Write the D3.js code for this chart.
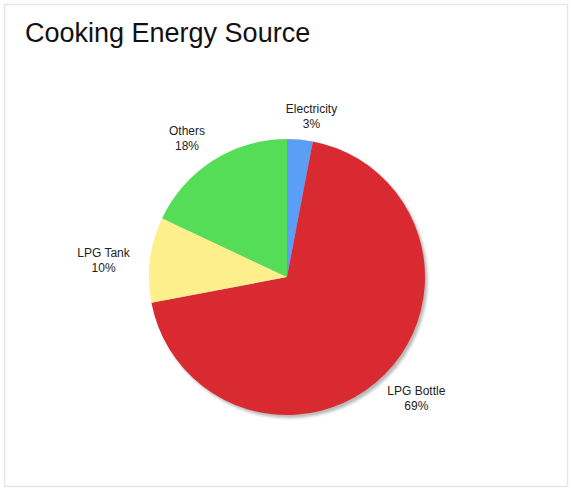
<!DOCTYPE html>
<html>
<head>
<meta charset="utf-8">
<script src="https://cdn.jsdelivr.net/npm/d3@7/dist/d3.min.js"></script>
<style>
  html, body { margin: 0; padding: 0; background: #fff; }
  svg { display: block; }
</style>
</head>
<body>
<script>
// Cooking energy source shares (percent), clockwise from 12 o'clock
const categories = ["Electricity", "LPG Bottle", "LPG Tank", "Others"];
const shares = [3, 69, 10, 18];
const sliceColors = ["#5b9ef6", "#d92a31", "#fdf08c", "#56dd57"];
const chartTitle = "Cooking Energy Source";

const W = 572, H = 488;
const cx = 287, cy = 277, radius = 138;

// small per-label nudges so callouts clear neighbouring slices
const labelNudge = [[9, 4], [3, -5], [-8, 6], [-9, 5]];

const svg = d3.select("body").append("svg")
  .attr("width", W).attr("height", H)
  .style("font-family", "'Liberation Sans', Arial, Helvetica, sans-serif");

// panel frame
svg.append("rect")
  .attr("x", 4.5).attr("y", 4.5)
  .attr("width", W - 9).attr("height", H - 6)
  .attr("fill", "#fff")
  .attr("stroke", "#e6e6e6").attr("stroke-width", 1.5);

svg.append("text")
  .attr("x", 25).attr("y", 42)
  .attr("font-size", 27)
  .attr("fill", "#111")
  .text(chartTitle);

const defs = svg.append("defs");
const shadow = defs.append("filter").attr("id", "pieShadow")
  .attr("x", "-10%").attr("y", "-10%").attr("width", "130%").attr("height", "130%");
shadow.append("feGaussianBlur").attr("stdDeviation", 1.6);

const data = categories.map((c, i) => ({ name: c, value: shares[i], color: sliceColors[i] }));
const pie = d3.pie().value(d => d.value).sort(null);
const arcs = pie(data);
const arc = d3.arc().innerRadius(0).outerRadius(radius);

const g = svg.append("g").attr("transform", `translate(${cx},${cy})`);

// soft drop shadow under the pie
g.append("circle")
  .attr("cx", 2.5).attr("cy", 3)
  .attr("r", radius)
  .attr("fill", "#9a9a9a")
  .attr("opacity", 0.7)
  .attr("filter", "url(#pieShadow)");

g.selectAll("path.slice")
  .data(arcs)
  .join("path")
  .attr("class", "slice")
  .attr("d", arc)
  .attr("fill", d => d.data.color);

// labels placed just outside the rim, pushed out by half their box
const lineH = 15;
const labels = g.selectAll("g.lbl")
  .data(arcs)
  .join("g")
  .attr("class", "lbl");

labels.each(function (d, i) {
  const sel = d3.select(this);
  const t = sel.append("text")
    .attr("text-anchor", "middle")
    .attr("font-size", 12)
    .attr("fill", "#222");
  t.append("tspan").attr("x", 0).attr("dy", 0).text(d.data.name);
  t.append("tspan").attr("x", 0).attr("dy", lineH).text(d.data.value + "%");
  const bb = t.node().getBBox();
  const a = (d.startAngle + d.endAngle) / 2;
  const s = Math.sin(a), c = Math.cos(a);
  const pad = Math.abs(s) * bb.width / 2 + Math.abs(c) * bb.height / 2;
  const dist = radius + 10 + pad;
  const px = s * dist + labelNudge[i][0], py = -c * dist + labelNudge[i][1];
  // shift text so its box centre sits at (px, py)
  const bcx = bb.x + bb.width / 2, bcy = bb.y + bb.height / 2;
  sel.attr("transform", `translate(${px - bcx},${py - bcy})`);
});
</script>
</body>
</html>
